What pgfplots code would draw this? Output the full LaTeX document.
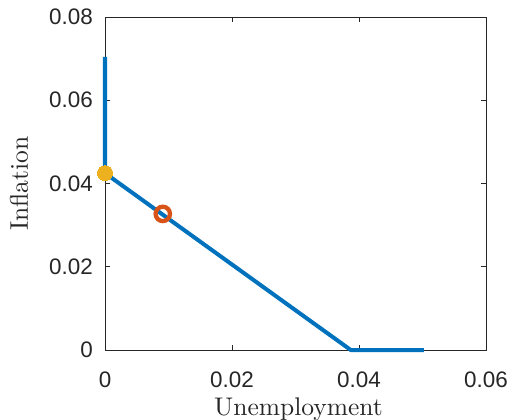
\documentclass[border=0pt]{standalone}
\usepackage{fontspec}
\usepackage{pgfplots}
\pgfplotsset{compat=1.18}
\newfontfamily\ticksf{Liberation Sans}
\newfontfamily\lmten{lmroman10-regular}[Extension=.otf]
\definecolor{mblue}{RGB}{0,114,189}
\definecolor{mred}{RGB}{217,83,25}
\definecolor{myel}{RGB}{237,177,32}
\definecolor{axgray}{RGB}{38,38,38}
\begin{document}
\begin{tikzpicture}[x=1bp,y=1bp]
\useasboundingbox (-105,-69) rectangle (407,350);
\begin{axis}[
  at={(0,0)}, anchor=south west,
  scale only axis, width=381bp, height=333bp,
  xmin=0, xmax=0.06, ymin=0, ymax=0.08,
  xtick={0,0.02,0.04,0.06}, ytick={0,0.02,0.04,0.06,0.08},
  xticklabels={0,0.02,0.04,0.06}, yticklabels={0,0.02,0.04,0.06,0.08},
  scaled ticks=false,
  tick align=inside, major tick length=5bp,
  axis line style={axgray, line width=0.6bp},
  every tick/.style={axgray, line width=0.6bp},
  tick label style={font=\ticksf\fontsize{22.5}{26}\selectfont, text=axgray, inner sep=0pt},
  xticklabel style={anchor=north, yshift=-22bp},
  yticklabel style={anchor=east, xshift=-12bp},
  clip=false,
]
\addplot[mblue, line width=4bp, line join=round] coordinates {(0,0.0704) (0,0.0425) (0.0387,0) (0.0502,0)};
\addplot[only marks, mark=*, mark size=7.5bp, mark options={fill=myel, draw=myel, line width=0pt}] coordinates {(0,0.0425)};
\addplot[only marks, mark=o, mark size=7.2bp, mark options={draw=mred, line width=4.3bp}] coordinates {(0.0091,0.0327)};
\end{axis}
\node[anchor=base, inner sep=0pt, text=axgray, font=\lmten\fontsize{25.6}{30}\selectfont] at (193.5,-65) {Unemployment};
\node[anchor=base, rotate=90, inner sep=0pt, text=axgray, font=\lmten\fontsize{25.6}{30}\selectfont] at (-77,166.5) {Inflation};
\end{tikzpicture}
\end{document}
